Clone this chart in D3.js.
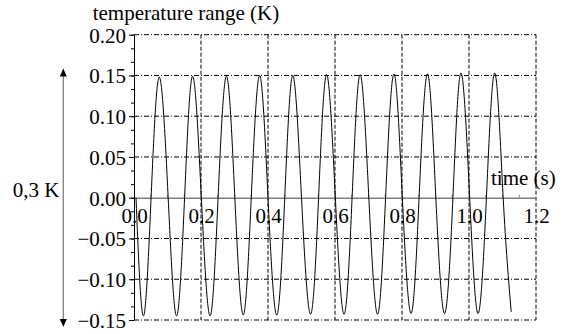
<!DOCTYPE html>
<html>
<head>
<meta charset="utf-8">
<script src="https://cdn.jsdelivr.net/npm/d3@7"></script>
<style>
  body { margin: 0; background: #fff; }
</style>
</head>
<body>
<div id="chart"></div>
<script>
// peaks, troughs and zero crossings
const time = [0.006, 0.028, 0.051, 0.0755, 0.102, 0.127, 0.151, 0.175, 0.201, 0.227,
  0.251, 0.276, 0.301, 0.326, 0.350, 0.375, 0.400, 0.426, 0.450, 0.474,
  0.500, 0.527, 0.551, 0.575, 0.601, 0.627, 0.651, 0.675, 0.701, 0.727,
  0.751, 0.776, 0.801, 0.827, 0.851, 0.876, 0.901, 0.927, 0.952, 0.976,
  1.002, 1.027, 1.052, 1.077, 1.102, 1.126];
const temperature = [0.0, -0.145, 0.0, 0.148, 0.0, -0.145, 0.0, 0.149, 0.0, -0.145,
  0.0, 0.149, 0.0, -0.144, 0.0, 0.150, 0.0, -0.144, 0.0, 0.150,
  0.0, -0.143, 0.0, 0.151, 0.0, -0.143, 0.0, 0.151, 0.0, -0.143,
  0.0, 0.152, 0.0, -0.142, 0.0, 0.152, 0.0, -0.142, 0.0, 0.153,
  0.0, -0.142, 0.0, 0.153, 0.0, -0.140];

const xTicks = [0, 0.2, 0.4, 0.6, 0.8, 1.0, 1.2];
const yTicks = [0.20, 0.15, 0.10, 0.05, 0.00, -0.05, -0.10, -0.15];

const width = 568;
const height = 334;
const font = "'Liberation Serif', 'DejaVu Serif', serif";

const x = d3.scaleLinear().domain([0, 1.2]).range([134, 536]);
const y = d3.scaleLinear().domain([-0.15, 0.20]).range([320, 34.7]);

const svg = d3.select('#chart').append('svg')
  .attr('width', width)
  .attr('height', height)
  .attr('viewBox', [0, 0, width, height])
  .attr('font-family', font);

const dashDot = '5,2,1,2';

// horizontal grid
svg.append('g').selectAll('line')
  .data(yTicks.filter((d) => d != 0))
  .join('line')
    .attr('x1', x(0)).attr('x2', x(1.2))
    .attr('y1', (d) => y(d)).attr('y2', (d) => y(d))
    .attr('stroke', '#000').attr('stroke-width', 1)
    .attr('stroke-dasharray', dashDot);

// vertical grid
svg.append('g').selectAll('line')
  .data(xTicks.filter((d) => d > 0))
  .join('line')
    .attr('x1', (d) => x(d)).attr('x2', (d) => x(d))
    .attr('y1', y(0.20)).attr('y2', y(-0.15))
    .attr('stroke', '#000').attr('stroke-width', 1)
    .attr('stroke-dasharray', '4,2');

// x axis at zero
const axisX = svg.append('g')
  .attr('transform', `translate(0, ${y(0)})`)
  .call(d3.axisBottom(x).tickValues(xTicks).tickFormat(d3.format('.1f')).tickSize(0).tickPadding(10))
  .attr('font-family', font)
  .attr('font-size', 21);
axisX.select('.domain').attr('stroke', '#808080').attr('stroke-width', 1.6);

svg.append('g').selectAll('line')
  .data(d3.range(0.05, 1.2, 0.05))
  .join('line')
    .attr('x1', (d) => x(d)).attr('x2', (d) => x(d))
    .attr('y1', y(0)).attr('y2', y(0) - 3)
    .attr('stroke', '#808080');

// y axis
svg.append('g')
  .attr('transform', `translate(${x(0)}, 0)`)
  .call(d3.axisLeft(y).tickValues(d3.range(0, 22).map((i) => 0.20 - i * 0.05 / 3)).tickSize(3).tickFormat(''))
  .call((g) => g.select('.domain').remove())
  .call((g) => g.selectAll('line').attr('stroke', '#000'));

const axisY = svg.append('g')
  .attr('transform', `translate(${x(0)}, 0)`)
  .call(d3.axisLeft(y).tickValues(yTicks).tickFormat(d3.format('.2f')).tickSize(5).tickPadding(3).tickSizeOuter(0))
  .attr('font-family', font)
  .attr('font-size', 21);
axisY.selectAll('text').attr('dy', '0.35em');
axisY.select('.domain').attr('stroke', '#000');

// the curve
const line = d3.line()
  .x((d, i) => x(time[i]))
  .y((d) => y(d))
  .curve(d3.curveNatural);

svg.append('path')
  .datum(temperature)
  .attr('fill', 'none')
  .attr('stroke', '#000')
  .attr('stroke-width', 1)
  .attr('d', line);

// 0,3 K arrow
const ax = 63.3;
svg.append('line')
  .attr('x1', ax).attr('x2', ax)
  .attr('y1', y(0.15) - 2).attr('y2', y(-0.15) + 2)
  .attr('stroke', '#808080').attr('stroke-width', 1.3);
svg.append('path')
  .attr('d', `M${ax},${y(0.15) - 7}L${ax - 3.5},${y(0.15) + 1}L${ax + 3.5},${y(0.15) + 1}Z`)
  .attr('fill', '#000');
svg.append('path')
  .attr('d', `M${ax},${y(-0.15) + 7}L${ax - 3.5},${y(-0.15) - 1}L${ax + 3.5},${y(-0.15) - 1}Z`)
  .attr('fill', '#000');

svg.append('text')
  .attr('x', 12.7).attr('y', 197)
  .attr('font-size', 21)
  .text('0,3 K');

svg.append('text')
  .attr('x', 92.7).attr('y', 19.5)
  .attr('font-size', 21)
  .text('temperature range (K)');

svg.append('text')
  .attr('x', 491).attr('y', 185)
  .attr('font-size', 21)
  .text('time (s)');
</script>
</body>
</html>
